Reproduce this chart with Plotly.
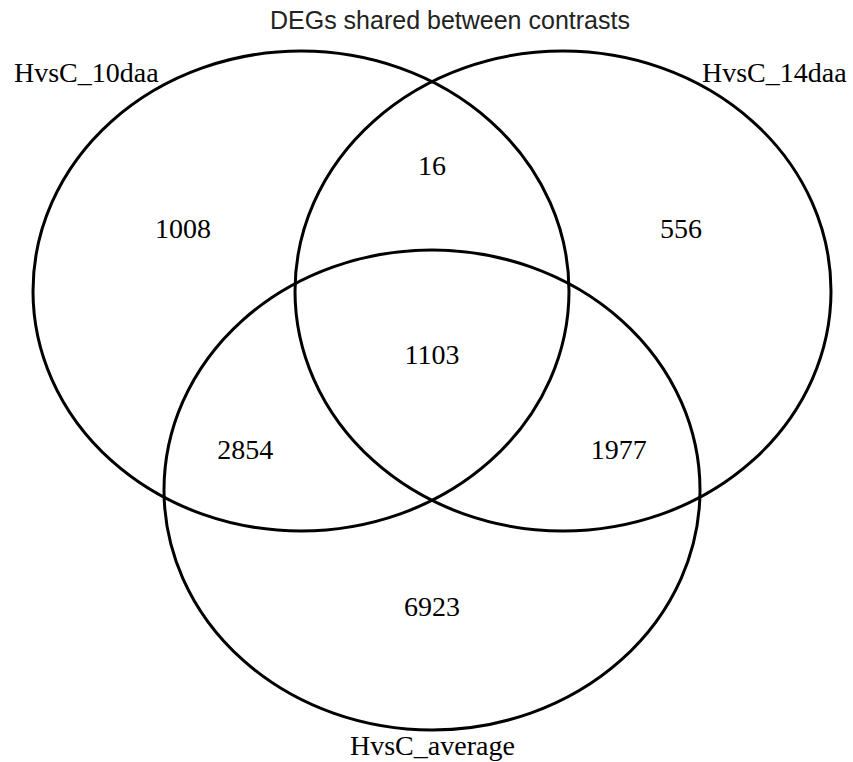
import plotly.graph_objects as go

# ---- data ----
set_names = ["HvsC_10daa", "HvsC_14daa", "HvsC_average"]
# region membership (L, R, B) and counts
regions = [(1, 0, 0), (0, 1, 0), (0, 0, 1), (1, 1, 0), (1, 0, 1), (0, 1, 1), (1, 1, 1)]
counts = [1008, 556, 6923, 16, 2854, 1977, 1103]
title_text = "DEGs shared between contrasts"

# ---- layout geometry (pixel-like data space) ----
W, H = 853, 762
centers = [(301, 291), (563, 291), (432, 490)]
rx, ry = 268, 240

gx = sum(c[0] for c in centers) / 3
gy = sum(c[1] for c in centers) / 3

label_x, label_y = [], []
for mem in regions:
    inc = [c for c, m in zip(centers, mem) if m]
    mx = sum(c[0] for c in inc) / len(inc)
    my = sum(c[1] for c in inc) / len(inc)
    k = {1: 1.9, 2: 2.85, 3: 1.0}[len(inc)]
    label_x.append(gx + k * (mx - gx))
    label_y.append(gy + k * (my - gy))

fig = go.Figure()
fig.add_trace(go.Scatter(
    x=label_x, y=label_y, mode="text",
    text=[str(c) for c in counts],
    textfont=dict(family="Liberation Serif", size=28, color="black"),
    hoverinfo="skip", showlegend=False,
))

shapes = []
for cx, cy in centers:
    shapes.append(dict(type="circle", xref="x", yref="y",
                       x0=cx - rx, x1=cx + rx, y0=cy - ry, y1=cy + ry,
                       line=dict(color="black", width=3)))

name_pos = [(86, 72), (774, 72), (432, 745)]
annotations = []
for name, (px, py) in zip(set_names, name_pos):
    annotations.append(dict(x=px, y=py, xref="x", yref="y", text=name,
                            showarrow=False,
                            font=dict(family="Liberation Serif", size=28, color="black")))
annotations.append(dict(x=450, y=20, xref="x", yref="y", text=title_text,
                        showarrow=False,
                        font=dict(family="Liberation Sans", size=25, color="#222222")))

fig.update_layout(
    width=W, height=H,
    margin=dict(l=0, r=0, t=0, b=0),
    paper_bgcolor="white", plot_bgcolor="white",
    xaxis=dict(range=[0, W], visible=False, fixedrange=True),
    yaxis=dict(range=[H, 0], visible=False, fixedrange=True),
    shapes=shapes, annotations=annotations,
)

fig.write_html("out.html", config={"displayModeBar": False},
               post_script="document.body.style.margin='0';document.body.style.overflow='hidden';")
